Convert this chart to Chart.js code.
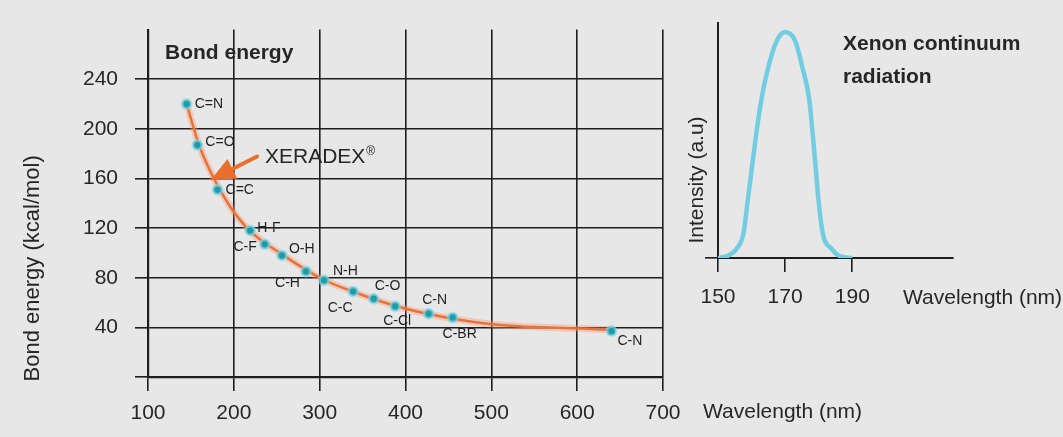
<!DOCTYPE html>
<html><head><meta charset="utf-8">
<script src="https://cdn.jsdelivr.net/npm/chart.js@4/dist/chart.umd.min.js"></script>
<style>
html,body{margin:0;padding:0;background:#e7e7e7;}
#wrap{position:relative;width:1063px;height:437px;background:#e7e7e7;overflow:hidden;}
.box{position:absolute;top:0;height:437px;}
</style></head><body>
<div id="wrap">
  <div class="box" style="left:0;width:1063px"><canvas id="c1"></canvas></div>
  <div class="box" style="left:687px;width:376px"><canvas id="c2"></canvas></div>
</div>
<script>
// ---------------- DATA ----------------
const BOND_LABELS = ['C=N','C=O','C=C','H-F','C-F','O-H','C-H','N-H','C-C','C-O','C-Cl','C-N','C-BR','C-N'];
const BOND_WAVELENGTH = [145,157.5,181,219,236,256,284,305,339,363,388,427,455,640];
const BOND_ENERGY = [220,187,151,118,107,98,85,78,69,63,57,51,48,37];
const CURVE_WAVELENGTH = [145,160,176,188,200,220,258,300,340,395,455,510,560,605,642];
const CURVE_ENERGY = [220,186,161,146,133,117,98,80,68.5,56,47,42,40,39,37.8];
const BOND_X_TICKS = [100,200,300,400,500,600,700];
const BOND_Y_TICKS = [0,40,80,120,160,200,240];
const XENON_WAVELENGTH = [150,153,155.5,157.6,158.9,160.1,161.4,162.9,164.9,167.5,170,173,175.2,177.2,178.2,179.1,179.9,181.2,183.9,186,190];
const XENON_INTENSITY = [0,0.01,0.04,0.11,0.26,0.40,0.55,0.70,0.84,0.96,1.0,0.96,0.84,0.70,0.55,0.40,0.26,0.11,0.04,0.01,0];
const XENON_X_TICKS = [150,170,190];

// ---------------- STYLE ----------------
const FONT = 'Liberation Sans, Arial, Helvetica, sans-serif';
const TXT = '#262626';
const GRID = '#1e1e1e';
// label offsets (px) relative to each point, and alignment
const LABEL_DX = [8,8,8,7,-8,7,-6,9,-13,1,2,6,7,6];
const LABEL_DY = [0,-3,0,-2,3,-6,12,-9,17,-13,15,-14,17,10];
const LABEL_ALIGN = ['left','left','left','left','right','left','right','left','center','left','center','center','center','left'];

const pts = (xs, ys) => xs.map((x, i) => ({x, y: ys[i]}));

const bondText = {
  id: 'bondText',
  afterDatasetsDraw(chart) {
    const {ctx, chartArea: a, scales: {x, y}} = chart;
    ctx.save();
    // point labels
    const meta = chart.getDatasetMeta(2);
    ctx.fillStyle = '#1f1f1f';
    ctx.font = '14px ' + FONT;
    ctx.textBaseline = 'middle';
    meta.data.forEach((el, i) => {
      ctx.textAlign = LABEL_ALIGN[i];
      ctx.fillText(BOND_LABELS[i], el.x + LABEL_DX[i], el.y + LABEL_DY[i]);
    });
    // XERADEX arrow
    const tipX = x.getPixelForValue(173.4), tipY = y.getPixelForValue(159);
    const tailX = x.getPixelForValue(227), tailY = y.getPixelForValue(177.7);
    const ang = Math.atan2(tipY - tailY, tipX - tailX);
    const hl = 24, hw = 11;
    const bx = tipX - hl * Math.cos(ang), by = tipY - hl * Math.sin(ang);
    ctx.strokeStyle = '#ea6f2c'; ctx.lineWidth = 4; ctx.lineCap = 'round';
    ctx.beginPath(); ctx.moveTo(tailX, tailY); ctx.lineTo(bx, by); ctx.stroke();
    ctx.fillStyle = '#ea6f2c';
    ctx.beginPath();
    ctx.moveTo(tipX, tipY);
    ctx.lineTo(bx + hw * Math.sin(ang), by - hw * Math.cos(ang));
    ctx.lineTo(bx - hw * Math.sin(ang), by + hw * Math.cos(ang));
    ctx.closePath(); ctx.fill();
    // XERADEX text
    ctx.fillStyle = TXT;
    ctx.textAlign = 'left'; ctx.textBaseline = 'middle';
    ctx.font = '21px ' + FONT;
    ctx.fillText('XERADEX', tailX + 8, tailY + 1);
    const w = ctx.measureText('XERADEX').width;
    ctx.font = '12px ' + FONT;
    ctx.fillText('®', tailX + 9 + w, tailY - 5);
    // panel title
    ctx.font = 'bold 21px ' + FONT;
    ctx.fillText('Bond energy', a.left + 17, a.top + 24);
    // x title
    ctx.font = '21px ' + FONT;
    ctx.fillText('Wavelength (nm)', a.right + 40, a.bottom + 35);
    // y title
    ctx.translate(33, (a.top + a.bottom) / 2 + 65);
    ctx.rotate(-Math.PI / 2);
    ctx.textAlign = 'center';
    ctx.font = '22px ' + FONT;
    ctx.fillText('Bond energy (kcal/mol)', 0, 0);
    ctx.restore();
  }
};

new Chart(document.getElementById('c1'), {
  type: 'scatter',
  data: {
    datasets: [
      { type: 'line', data: pts(CURVE_WAVELENGTH, CURVE_ENERGY), borderColor: 'rgba(245,150,110,0.35)', borderWidth: 7,
        pointRadius: 0, cubicInterpolationMode: 'monotone', fill: false, order: 3 },
      { type: 'line', data: pts(CURVE_WAVELENGTH, CURVE_ENERGY), borderColor: '#ea7138', borderWidth: 2.5,
        pointRadius: 0, cubicInterpolationMode: 'monotone', fill: false, order: 2 },
      { data: pts(BOND_WAVELENGTH, BOND_ENERGY), showLine: false, pointRadius: 4.5,
        pointBackgroundColor: '#1f9ba4', pointBorderColor: 'rgba(140,215,232,0.6)', pointBorderWidth: 3, order: 1 }
    ]
  },
  options: {
    responsive: true, maintainAspectRatio: false, animation: false,
    layout: { padding: { left: 0, right: 400, top: 20, bottom: 0 } },
    plugins: { legend: { display: false }, tooltip: { enabled: false } },
    scales: {
      x: {
        type: 'linear', min: 100, max: 700,
        afterBuildTicks: s => { s.ticks = BOND_X_TICKS.map(v => ({value: v})); },
        afterFit: s => { s.height = 60; },
        grid: { color: GRID, lineWidth: 1.6, tickLength: 14 },
        border: { color: GRID, width: 2.2 },
        ticks: { color: TXT, font: { family: FONT, size: 21 }, padding: 10, maxRotation: 0 }
      },
      y: {
        type: 'linear', min: 0, max: 280,
        afterBuildTicks: s => { s.ticks = BOND_Y_TICKS.map(v => ({value: v})); },
        afterFit: s => { s.width = 148; },
        grid: { color: GRID, lineWidth: 1.6, tickLength: 13 },
        border: { color: GRID, width: 2.2 },
        ticks: { color: TXT, font: { family: FONT, size: 21 }, padding: 17,
          callback: v => v === 0 ? '' : String(v) }
      }
    }
  },
  plugins: [bondText]
});

const xenonText = {
  id: 'xenonText',
  afterDatasetsDraw(chart) {
    const {ctx, chartArea: a} = chart;
    ctx.save();
    ctx.fillStyle = TXT;
    ctx.textAlign = 'left'; ctx.textBaseline = 'middle';
    ctx.font = 'bold 21px ' + FONT;
    ctx.fillText('Xenon continuum', a.left + 125, 44);
    ctx.fillText('radiation', a.left + 125, 77);
    ctx.font = '21px ' + FONT;
    ctx.fillText('Wavelength (nm)', a.left + 185, a.bottom + 40);
    ctx.translate(a.left - 21, 180);
    ctx.rotate(-Math.PI / 2);
    ctx.textAlign = 'center';
    ctx.font = '21px ' + FONT;
    ctx.fillText('Intensity (a.u)', 0, 0);
    ctx.restore();
  }
};

new Chart(document.getElementById('c2'), {
  type: 'line',
  data: {
    datasets: [
      { data: pts(XENON_WAVELENGTH, XENON_INTENSITY), borderColor: '#72cde2', borderWidth: 4.5,
        pointRadius: 0, cubicInterpolationMode: 'monotone', fill: false },
      { data: pts(XENON_WAVELENGTH, XENON_INTENSITY), borderColor: '#2e92a0', borderWidth: 2.2,
        pointRadius: 0, cubicInterpolationMode: 'monotone', fill: false }
    ]
  },
  options: {
    responsive: true, maintainAspectRatio: false, animation: false,
    layout: { padding: { left: 0, right: 110, top: 23, bottom: 0 } },
    plugins: { legend: { display: false }, tooltip: { enabled: false } },
    scales: {
      x: {
        type: 'linear', min: 150, max: 220,
        afterBuildTicks: s => { s.ticks = XENON_X_TICKS.map(v => ({value: v})); },
        afterFit: s => { s.height = 179; },
        grid: { drawOnChartArea: false, color: GRID, lineWidth: 1.6, tickLength: 14 },
        border: { color: GRID, width: 2 },
        ticks: { color: TXT, font: { family: FONT, size: 21 }, padding: 13, maxRotation: 0 }
      },
      y: {
        type: 'linear', min: 0, max: 1.04,
        afterBuildTicks: s => { s.ticks = [{value: 0}]; },
        afterFit: s => { s.width = 31; },
        grid: { drawOnChartArea: false, color: GRID, lineWidth: 1.6, tickLength: 13 },
        border: { color: GRID, width: 2 },
        ticks: { display: true, callback: () => '', padding: 0 }
      }
    }
  },
  plugins: [xenonText]
});
</script>
</body></html>
